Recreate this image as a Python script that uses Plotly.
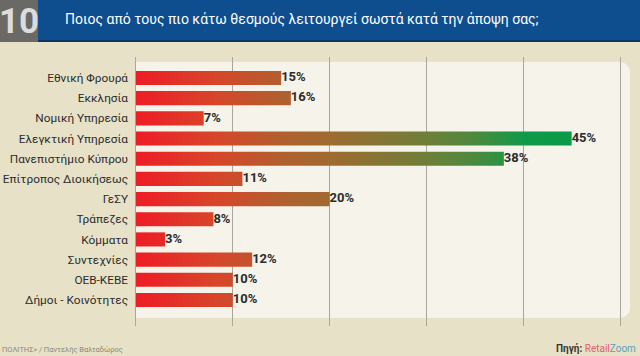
import plotly.graph_objects as go

categories = ["Εθνική Φρουρά", "Εκκλησία", "Νομική Υπηρεσία", "Ελεγκτική Υπηρεσία",
              "Πανεπιστήμιο Κύπρου", "Επίτροπος Διοικήσεως", "ΓεΣΥ", "Τράπεζες",
              "Κόμματα", "Συντεχνίες", "ΟΕΒ-ΚΕΒΕ", "Δήμοι - Κοινότητες"]
values = [15, 16, 7, 45, 38, 11, 20, 8, 3, 12, 10, 10]
value_labels = [f"{v}%" for v in values]
title_text = "Ποιος από τους πιο κάτω θεσμούς λειτουργεί σωστά κατά την άποψη σας;"
number_text = "10"

BG = "#e7e2c7"
PANEL = "#f6f3eb"
GRID = "#aaa69b"
BLUE = "#0e4e8e"
FONT = "Roboto"

W, H = 640, 356
L, R, T, B = 134, 18, 57, 30
pw, ph = W - L - R, H - T - B

def px(p):
    return (p - L) / pw

def py(q):
    return (H - B - q) / ph

gradient = [[0.0, "#ee1c25"], [0.18, "#d8452a"], [0.33, "#b25f2e"], [0.44, "#a06a30"],
            [0.67, "#6e7f38"], [0.78, "#4a8a3e"], [0.89, "#109a48"], [1.0, "#0a9a48"]]

fig = go.Figure()
half = 0.35
for i, v in enumerate(values):
    fig.add_trace(go.Scatter(
        x=[0, v, v, 0, 0], y=[i - half, i - half, i + half, i + half, i - half],
        mode="lines", line=dict(width=0), fill="toself",
        fillgradient=dict(type="horizontal", colorscale=gradient, start=0, stop=45),
        hoverinfo="skip", showlegend=False))

fig.add_trace(go.Scatter(
    x=values, y=list(range(len(values))), mode="text", text=value_labels,
    textposition="middle right",
    textfont=dict(family=FONT, size=13, color="#2b2b2b", weight="bold"),
    showlegend=False, hoverinfo="skip"))

def prect(xa, xb, ya, yb, color):
    return dict(type="rect", xref="paper", yref="paper", x0=px(xa), x1=px(xb),
                y0=py(yb), y1=py(ya), fillcolor=color, line=dict(width=0), layer="below")

def pcircle(cx, cy, r, color):
    return dict(type="circle", xref="paper", yref="paper", x0=px(cx - r), x1=px(cx + r),
                y0=py(cy + r), y1=py(cy - r), fillcolor=color, line=dict(width=0), layer="below")

shapes = [
    prect(0, W, 0, 42, BLUE),
    prect(0, W, 40, 42, "#0a3660"),
    prect(0, 38, 0, 42, "#6b6966"),
    # light panel with rounded right corners
    prect(135, 620, 62, 318, PANEL),
    prect(619, 630, 72, 308, PANEL),
    pcircle(620, 72, 10, PANEL),
    pcircle(620, 308, 10, PANEL),
]

annotations = [
    dict(xref="paper", yref="paper", x=px(302), y=py(19), text=title_text, showarrow=False,
         font=dict(family=FONT, size=14, color="white"), xanchor="center", yanchor="middle"),
    dict(xref="paper", yref="paper", x=px(19), y=py(21), text=number_text, showarrow=False,
         font=dict(family=FONT, size=35, color="#dcdcdc", weight="bold"),
         xanchor="center", yanchor="middle"),
    dict(xref="paper", yref="paper", x=px(0), y=py(349), text="ΠΟΛΙΤΗΣ» / Παντελής Βαλταδώρος",
         showarrow=False, font=dict(family=FONT, size=7.5, color="#8c8775"),
         xanchor="left", yanchor="middle"),
    dict(xref="paper", yref="paper", x=px(638), y=py(348),
         text="<b>Πηγή:</b> <span style='color:#e0606a'>Retail</span><span style='color:#5aa0b8'>Zoom</span>",
         showarrow=False, font=dict(family=FONT, size=10, color="#3a3530"),
         xanchor="right", yanchor="middle"),
]

fig.update_layout(
    width=W, height=H, autosize=False,
    margin=dict(l=L, r=R, t=T, b=B, pad=0, autoexpand=False),
    paper_bgcolor=BG, plot_bgcolor="rgba(0,0,0,0)",
    shapes=shapes, annotations=annotations, showlegend=False,
    xaxis=dict(range=[-0.2, 50.2], tick0=0, dtick=10, showgrid=True, gridcolor=GRID,
               gridwidth=1, zeroline=False, showticklabels=False, ticks="", fixedrange=True,
               automargin=False),
    yaxis=dict(range=[12.29, -1.04], tickvals=list(range(len(categories))), ticktext=categories,
               showgrid=False, zeroline=False, ticks="", ticklabelstandoff=5, automargin=False,
               tickfont=dict(family=FONT, size=11.8, color="#2b2b2b"), fixedrange=True),
)

fig.write_html("out.html", config={"displayModeBar": False},
               post_script="document.body.style.margin='0';document.body.style.overflow='hidden';")
